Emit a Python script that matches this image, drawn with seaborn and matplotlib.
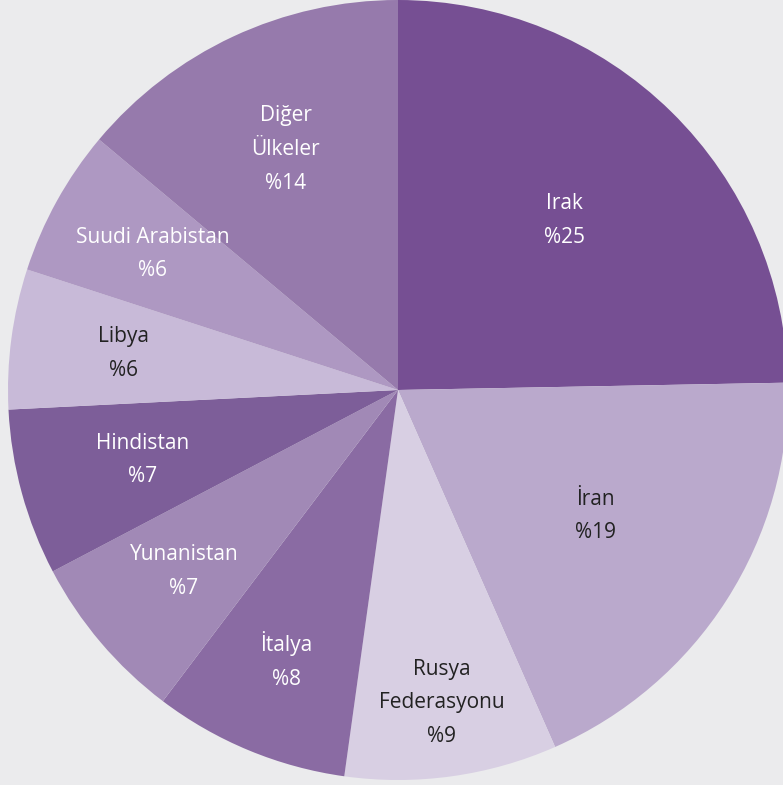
import numpy as np
import matplotlib
matplotlib.use("Agg")
import matplotlib.pyplot as plt
import seaborn as sns

# Veriler (saat yönünde, tepeden başlayarak)
ulkeler = ['Irak', 'İran', 'Rusya\nFederasyonu', 'İtalya', 'Yunanistan',
           'Hindistan', 'Libya', 'Suudi Arabistan', 'Diğer\nÜlkeler']
etiket_yuzde = [25, 19, 9, 8, 7, 7, 6, 6, 14]
paylar = [24.7, 18.7, 8.8, 8.1, 7.0, 6.9, 5.8, 6.1, 13.9]

# Stil
renkler = ['#764f93', '#baa9cc', '#d8cfe3', '#8a6ba3', '#a189b6',
           '#7d5e99', '#c8bad8', '#ae98c2', '#967aac']
yazi_renk = ['white', '#222222', '#222222', 'white', 'white',
             'white', '#222222', 'white', 'white']
etiket_r = [0.61, 0.60, 0.81, 0.75, 0.72, 0.68, 0.71, 0.72, 0.68]

arka = '#ebebed'
sns.set_style("white", {"axes.facecolor": arka, "figure.facecolor": arka})
plt.rcParams['font.family'] = ['Open Sans', 'DejaVu Sans']

fig = plt.figure(figsize=(7.83, 7.85), dpi=100)
ax = fig.add_axes([0, 0, 1, 1])

wedges, _ = ax.pie(paylar, colors=renkler, startangle=90, counterclock=False,
                   radius=1, wedgeprops=dict(linewidth=0))

for w, ad, yz, rk, r in zip(wedges, ulkeler, etiket_yuzde, yazi_renk, etiket_r):
    aci = np.deg2rad((w.theta1 + w.theta2) / 2)
    ax.text(r * np.cos(aci), r * np.sin(aci), f'{ad}\n%{yz}', ha='center', va='center',
            color=rk, fontsize=15, linespacing=1.8)

ax.set_xlim(-398 / 390, 385 / 390)
ax.set_ylim(-395 / 390, 1.0)
ax.set_aspect('auto')
ax.axis('off')

plt.savefig('out.png', dpi=100, facecolor=arka)
